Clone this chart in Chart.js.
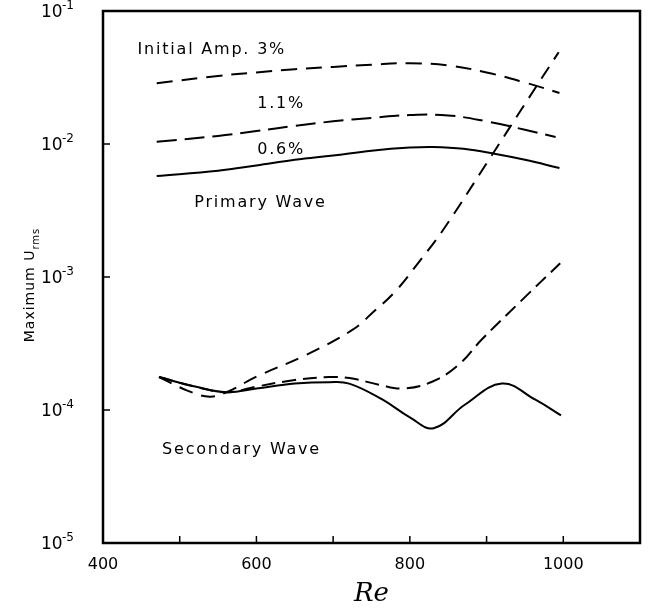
<!DOCTYPE html>
<html>
<head>
<meta charset="utf-8">
<script src="https://cdn.jsdelivr.net/npm/chart.js@4.4.1/dist/chart.umd.min.js"></script>
<style>
  body { margin: 0; background: #fff; }
  #wrap { width: 650px; height: 613px; }
</style>
</head>
<body>
<div id="wrap"><canvas id="plot"></canvas></div>
<script>
// primary wave, Re and max U_rms for each initial amplitude
const priRe3 = [470, 550, 600, 650, 700, 750, 800, 850, 900, 950, 995];
const pri3 = [0.0286, 0.0325, 0.0345, 0.0365, 0.038, 0.0395, 0.0405, 0.039, 0.0345, 0.029, 0.0242];
const priRe11 = [470, 550, 600, 650, 700, 750, 800, 850, 900, 950, 990];
const pri11 = [0.0104, 0.0115, 0.0125, 0.0137, 0.0148, 0.0157, 0.0165, 0.0164, 0.0148, 0.0128, 0.0113];
const priRe06 = [470, 550, 600, 650, 700, 750, 800, 830, 870, 912, 950, 995];
const pri06 = [0.00574, 0.0063, 0.0069, 0.0076, 0.0082, 0.0089, 0.0094, 0.0095, 0.0092, 0.0084, 0.0076, 0.0066];

// secondary wave
const secRe06 = [473, 520, 561, 600, 650, 695, 721, 764, 800, 831, 872, 920, 963, 997];
const sec06 = [1.77e-4, 1.5e-4, 1.36e-4, 1.45e-4, 1.58e-4, 1.62e-4, 1.58e-4, 1.2e-4, 8.8e-5, 7.3e-5, 1.1e-4, 1.58e-4, 1.2e-4, 9.1e-5];
const secRe11 = [473, 520, 561, 600, 650, 695, 721, 760, 790, 829, 864, 894, 946, 996];
const sec11 = [1.77e-4, 1.5e-4, 1.36e-4, 1.5e-4, 1.68e-4, 1.77e-4, 1.74e-4, 1.55e-4, 1.45e-4, 1.63e-4, 2.2e-4, 3.4e-4, 6.7e-4, 1.27e-3];
const secRe3 = [473, 510, 539, 561, 600, 665, 725, 753, 782, 812, 842, 903, 950, 994];
const sec3 = [1.77e-4, 1.4e-4, 1.26e-4, 1.36e-4, 1.78e-4, 2.6e-4, 4.0e-4, 5.5e-4, 7.9e-4, 1.3e-3, 2.2e-3, 7.6e-3, 0.02, 0.049];

const xTicks = [400, 500, 600, 700, 800, 900, 1000, 1100];
const xLabels = [400, 600, 800, 1000];
const yTicks = [1e-5, 1e-4, 1e-3, 1e-2, 1e-1];
const yExp = ['-5', '-4', '-3', '-2', '-1'];

// text in the plot: [text, Re, value]
const notes = [
  ['Initial Amp. 3%', 445, 0.051],
  ['1.1%', 601, 0.02],
  ['0.6%', 601, 0.009],
  ['Primary Wave', 519, 0.0036],
  ['Secondary Wave', 477, 5.0e-5]
];

function pts(xs, ys) { return xs.map((x, i) => ({x: x, y: ys[i]})); }

function line(label, xs, ys, dash) {
  return {
    label: label,
    data: pts(xs, ys),
    borderColor: '#000',
    borderWidth: 2,
    borderDash: dash,
    pointRadius: 0,
    tension: 0.4,
    showLine: true,
    fill: false
  };
}

const frame = {
  id: 'frame',
  afterDraw(chart) {
    const c = chart.ctx, a = chart.chartArea;
    const sx = chart.scales.x, sy = chart.scales.y;
    c.save();
    c.strokeStyle = '#000';
    c.lineWidth = 2.5;
    c.strokeRect(a.left, a.top, a.right - a.left, a.bottom - a.top);
    c.lineWidth = 1.5;
    c.beginPath();
    xTicks.forEach(v => {
      const px = sx.getPixelForValue(v);
      c.moveTo(px, a.bottom); c.lineTo(px, a.bottom - 7);
    });
    yTicks.forEach(v => {
      const py = sy.getPixelForValue(v);
      c.moveTo(a.left, py); c.lineTo(a.left + 7, py);
    });
    c.stroke();

    c.fillStyle = '#000';

    // y tick labels, 10 with a raised exponent
    c.textBaseline = 'middle';
    c.textAlign = 'left';
    yTicks.forEach((v, i) => {
      const py = sy.getPixelForValue(v) + 2;
      c.font = '17px "DejaVu Sans"';
      c.fillText('10', 41, py);
      c.font = '12px "DejaVu Sans"';
      c.fillText(yExp[i], 62, py - 7);
    });

    c.font = '16px "DejaVu Sans"';
    c.letterSpacing = '1.8px';
    notes.forEach(n => {
      c.fillText(n[0], sx.getPixelForValue(n[1]), sy.getPixelForValue(n[2]));
    });

    // y axis title
    c.save();
    c.translate(30, 285);
    c.rotate(-Math.PI / 2);
    c.letterSpacing = '1px';
    const main = 'Maximum U';
    c.font = '14px "DejaVu Sans"';
    const w1 = c.measureText(main).width;
    c.font = '10px "DejaVu Sans"';
    const w2 = c.measureText('rms').width;
    const x0 = -(w1 + w2) / 2;
    c.font = '14px "DejaVu Sans"';
    c.fillText(main, x0, 0);
    c.font = '10px "DejaVu Sans"';
    c.fillText('rms', x0 + w1, 6);
    c.restore();

    // x axis title
    c.letterSpacing = '0px';
    c.font = 'italic 26px "DejaVu Serif"';
    c.textAlign = 'center';
    c.fillText('Re', (a.left + a.right) / 2, 594);
    c.restore();
  }
};

new Chart(document.getElementById('plot'), {
  type: 'scatter',
  data: {
    datasets: [
      line('Primary 3%', priRe3, pri3, [16, 9]),
      line('Primary 1.1%', priRe11, pri11, [20, 8]),
      line('Primary 0.6%', priRe06, pri06, []),
      line('Secondary 0.6%', secRe06, sec06, []),
      line('Secondary 1.1%', secRe11, sec11, [14, 7]),
      line('Secondary 3%', secRe3, sec3, [14, 9])
    ]
  },
  options: {
    responsive: true,
    maintainAspectRatio: false,
    animation: false,
    layout: { padding: { left: 0, right: 10, top: 11, bottom: 0 } },
    plugins: { legend: { display: false }, tooltip: { enabled: false } },
    scales: {
      x: {
        type: 'linear', min: 400, max: 1100,
        afterBuildTicks: s => { s.ticks = xLabels.map(v => ({value: v})); },
        afterFit: s => { s.height = 70; s.paddingLeft = 0; s.paddingRight = 0; },
        grid: { display: false },
        border: { display: false },
        ticks: {
          color: '#000', padding: 4, maxRotation: 0,
          font: { family: 'DejaVu Sans', size: 16 },
          callback: v => String(v)
        }
      },
      y: {
        type: 'logarithmic', min: 1e-5, max: 1e-1,
        afterBuildTicks: s => { s.ticks = yTicks.map(v => ({value: v})); },
        afterFit: s => { s.width = 103; s.paddingTop = 0; s.paddingBottom = 0; },
        grid: { display: false },
        border: { display: false },
        ticks: { display: false }
      }
    }
  },
  plugins: [frame]
});
</script>
</body>
</html>
